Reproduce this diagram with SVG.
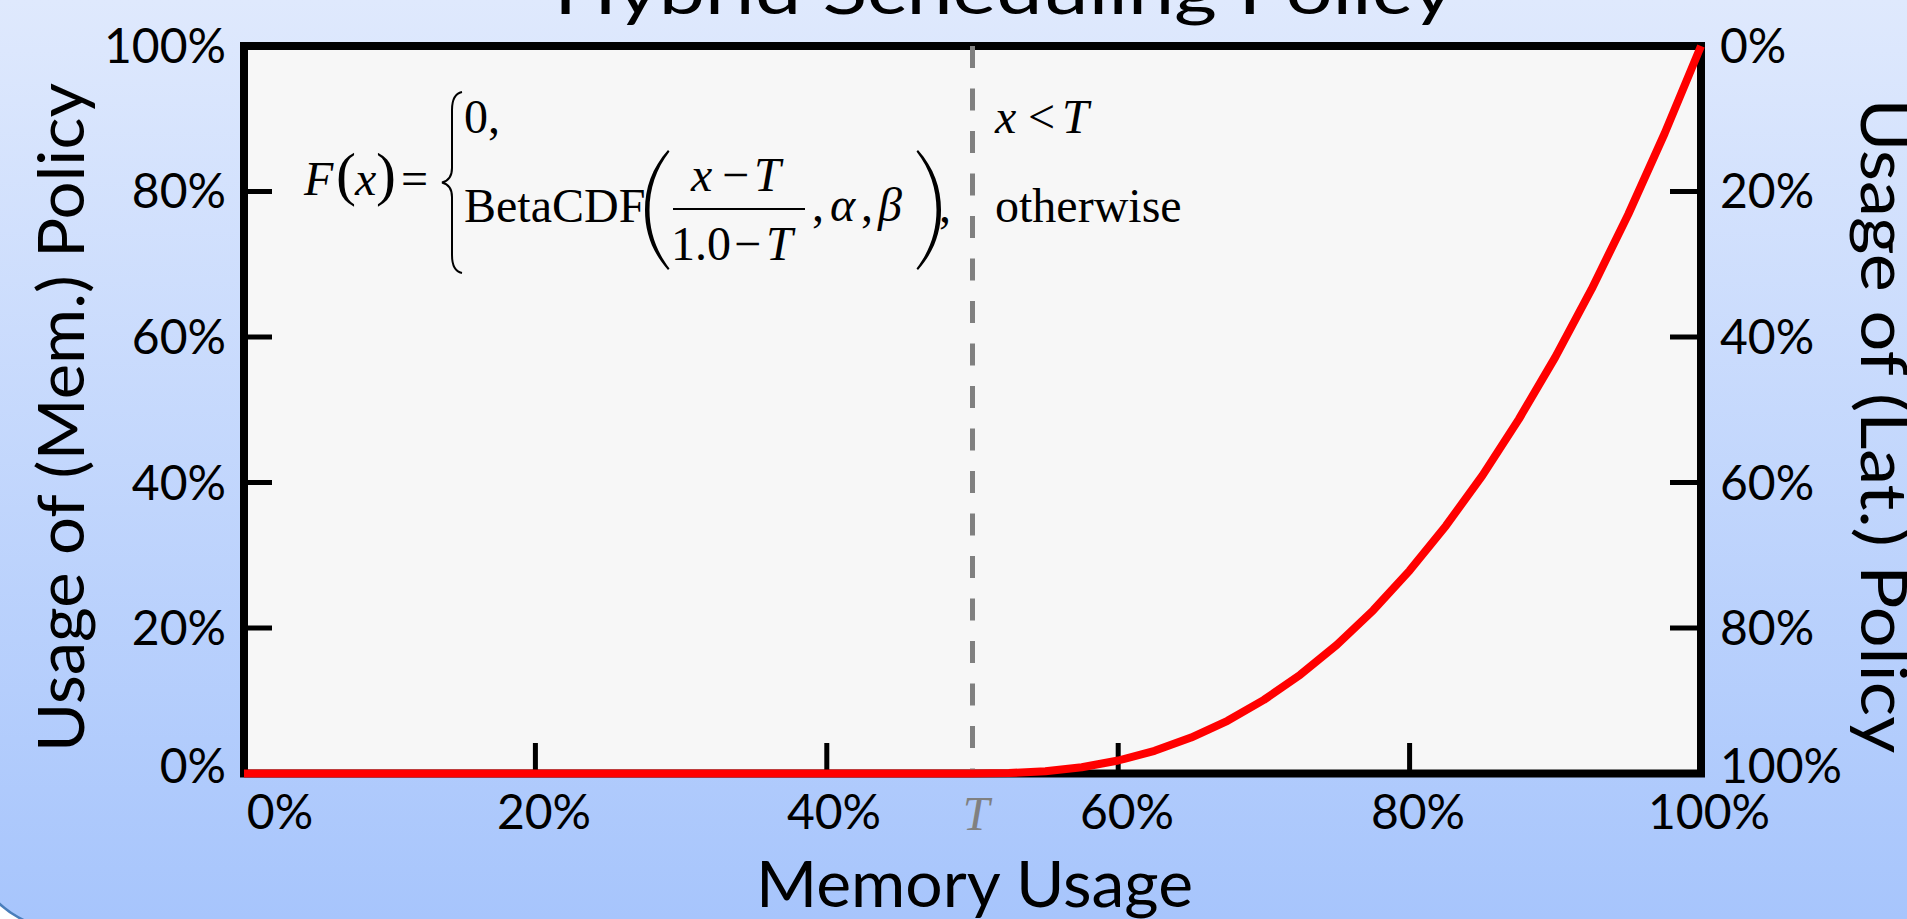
<svg xmlns="http://www.w3.org/2000/svg" width="1907" height="919" viewBox="0 0 1907 919">
  <defs>
    <linearGradient id="panelFill" x1="0" y1="0" x2="0" y2="919" gradientUnits="userSpaceOnUse">
      <stop offset="0" stop-color="#dfe9fd"/>
      <stop offset="1" stop-color="#a7c5fc"/>
    </linearGradient>
  </defs>
  <style>
    .lbl { font-family: Lato, "Open Sans", "Liberation Sans", sans-serif; font-size: 48px; fill: #000; }
    .axis-title { font-family: Lato, "Open Sans", "Liberation Sans", sans-serif; font-size: 63px; fill: #000; }
    .math { font-family: "Liberation Serif", "Times New Roman", serif; font-size: 48px; fill: #000; }
    .it { font-style: italic; }
    .tick { stroke: #000; stroke-width: 5; fill: none; }
  </style>

  <!-- slide panel -->
  <rect width="1907" height="919" fill="#ffffff"/>
  <rect x="-33" y="-200" width="2200" height="1130" rx="100" fill="url(#panelFill)" stroke="#4a7ebb" stroke-width="2.5"/>

  <!-- title (runs off the top edge) -->
  <text id="title" class="axis-title" x="1004" y="14" text-anchor="middle" font-size="84" textLength="900" lengthAdjust="spacingAndGlyphs">Hybrid Scheduling Policy</text>

  <!-- plot area -->
  <g id="plot">
    <rect x="244" y="46" width="1457" height="727.5" fill="#f7f7f7" stroke="#000" stroke-width="8"/>
    <path class="tick" d="M244 191.5H272M244 337H272M244 482.5H272M244 628H272
                          M1670 191.5H1701M1670 337H1701M1670 482.5H1701M1670 628H1701
                          M535.4 743V773M826.8 743V773M1118.2 743V773M1409.6 743V773"/>
  </g>

  <!-- threshold marker -->
  <line id="threshold" x1="972.5" y1="46" x2="972.5" y2="773.5" stroke="#808080" stroke-width="5" stroke-dasharray="22 20.5"/>

  <!-- F(x): zero below T, then u^2.5 on the normalised range u = (x-T)/(1-T) -->
  <path id="curve" fill="none" stroke="#ff0000" stroke-width="8" stroke-linejoin="round"
        d="M244 773.5 L972.5 773.5 L1008.9 773.1 L1045.4 771.2 L1081.8 767.2 L1118.2 760.5 L1154.6 750.8
           L1191.1 737.6 L1227.5 720.8 L1263.9 699.9 L1300.3 674.7 L1336.8 644.9 L1373.2 610.3
           L1409.6 570.6 L1446.0 525.7 L1482.5 475.3 L1518.9 419.1 L1555.3 357.1 L1591.7 288.9
           L1628.2 214.5 L1664.6 133.5 L1701 46"/>

  <!-- left axis labels -->
  <g id="y-left" class="lbl" text-anchor="end">
    <text x="226" y="63">100%</text>
    <text x="226" y="208">80%</text>
    <text x="226" y="354">60%</text>
    <text x="226" y="499.5">40%</text>
    <text x="226" y="645">20%</text>
    <text x="226" y="783">0%</text>
  </g>

  <!-- right axis labels -->
  <g id="y-right" class="lbl">
    <text x="1720" y="63">0%</text>
    <text x="1720" y="208">20%</text>
    <text x="1720" y="354">40%</text>
    <text x="1720" y="499.5">60%</text>
    <text x="1720" y="645">80%</text>
    <text x="1720" y="783">100%</text>
  </g>

  <!-- bottom axis labels -->
  <g id="x-axis" class="lbl" text-anchor="middle">
    <text x="280" y="829">0%</text>
    <text x="544" y="829">20%</text>
    <text x="834" y="829">40%</text>
    <text x="1127" y="829">60%</text>
    <text x="1418" y="829">80%</text>
    <text x="1709" y="829">100%</text>
  </g>
  <text id="t-label" class="math it" x="976" y="830" text-anchor="middle" font-size="56" style="fill:#808080">T</text>

  <!-- axis titles -->
  <text id="x-title" class="axis-title" x="974.5" y="907" text-anchor="middle" textLength="437" lengthAdjust="spacingAndGlyphs">Memory Usage</text>
  <text id="y-left-title" class="axis-title" transform="translate(84 417.5) rotate(-90)" text-anchor="middle" textLength="669" lengthAdjust="spacingAndGlyphs">Usage of (Mem.) Policy</text>
  <text id="y-right-title" class="axis-title" transform="translate(1861 426) rotate(90)" text-anchor="middle" textLength="655" lengthAdjust="spacingAndGlyphs">Usage of (Lat.) Policy</text>

  <!-- piecewise definition -->
  <g id="formula" class="math">
    <text class="it" x="304" y="195">F</text>
    <text x="336" y="194" font-size="60">(</text>
    <text class="it" x="355" y="195">x</text>
    <text x="376" y="194" font-size="60">)</text>
    <text x="401" y="195">=</text>
    <path d="M462 92 Q452 94 452 110 L452 168 Q452 180 442 182.5 Q452 185 452 197 L452 255 Q452 271 462 273" fill="none" stroke="#000" stroke-width="2"/>
    <text x="464" y="133">0,</text>
    <text x="464" y="222">BetaCDF</text>
    <path d="M668 150 C652 168 645 188 645 210 C645 232 652 252 668 270 L669.5 268.5 C656 251 649.5 231 649.5 210 C649.5 189 656 169 669.5 151.5 Z"/>
    <text class="it" x="691" y="191">x</text>
    <text x="722" y="191">−</text>
    <text class="it" x="754" y="191">T</text>
    <line x1="673" y1="209" x2="805" y2="209" stroke="#000" stroke-width="2"/>
    <text x="671" y="260">1.0</text>
    <text x="734" y="260">−</text>
    <text class="it" x="766" y="260">T</text>
    <text x="812" y="221">,</text>
    <text class="it" x="830" y="221">α</text>
    <text x="861" y="221">,</text>
    <text class="it" x="878" y="221">β</text>
    <path d="M918 150 C934 168 941 188 941 210 C941 232 934 252 918 270 L916.5 268.5 C930 251 936.5 231 936.5 210 C936.5 189 930 169 916.5 151.5 Z"/>
    <text x="939" y="222">,</text>
    <text class="it" x="995" y="133">x</text>
    <text x="1028" y="133">&lt;</text>
    <text class="it" x="1062" y="133">T</text>
    <text x="995" y="222">otherwise</text>
  </g>
</svg>
